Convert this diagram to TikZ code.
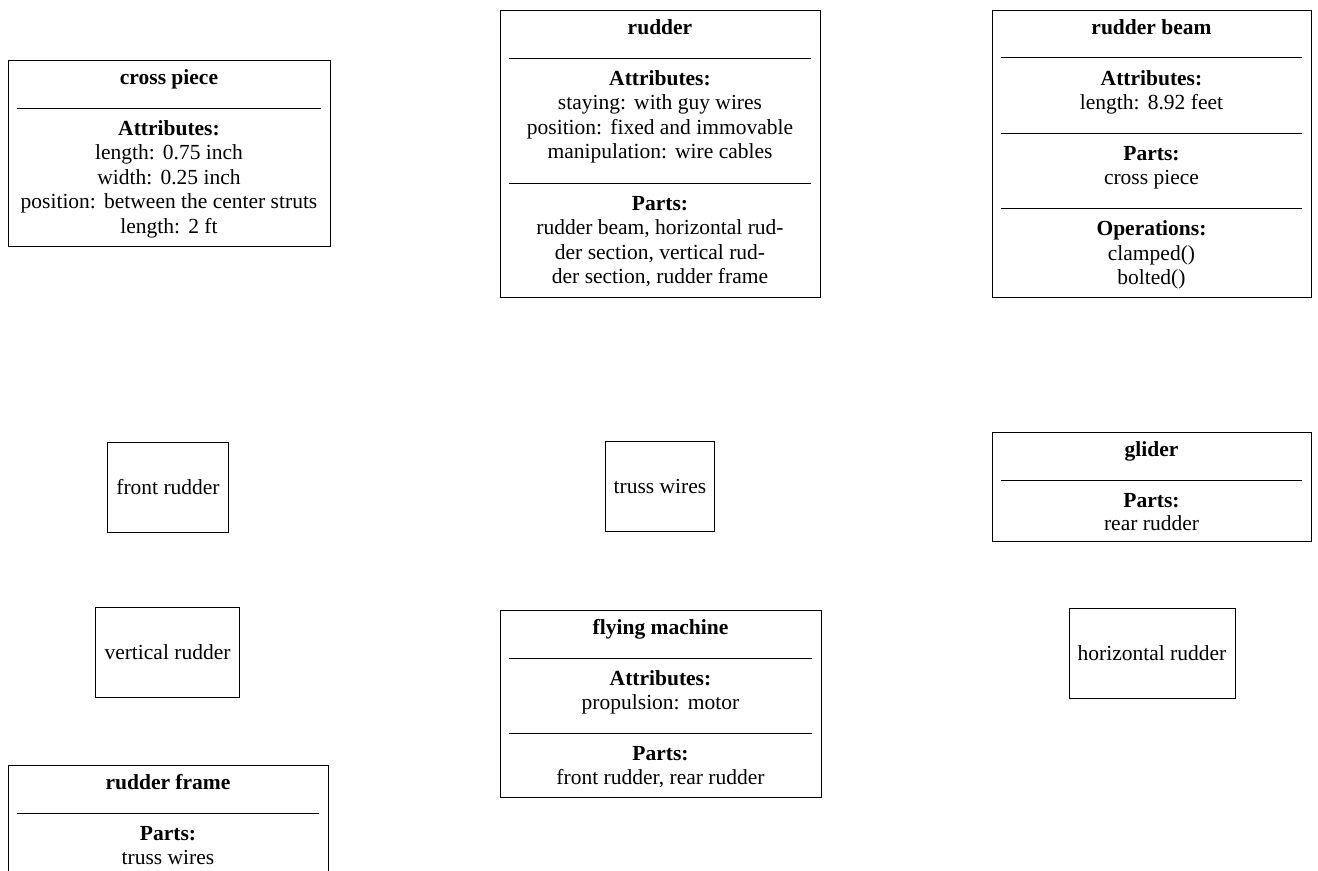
\documentclass[tikz,border=0pt]{standalone}
\usepackage{fontspec}
\setmainfont{Liberation Serif}
\usetikzlibrary{fit}
\newcommand{\colsp}{:\hspace{3.8pt}}
\begin{document}
\begin{tikzpicture}[x=0.465pt, y=-0.465pt,
  frame/.style={draw, line width=0.4pt, inner sep=0pt},
  ttl/.style={anchor=base, inner sep=0pt, yshift=-0.9pt, font=\fontsize{10}{12}\selectfont\bfseries},
  txt/.style={anchor=base, inner sep=0pt, yshift=-0.9pt, font=\fontsize{10}{12}\selectfont},
  divider/.style={line width=0.4pt},
  simple/.style={draw, line width=0.4pt, inner xsep=4pt, inner ysep=0pt, minimum height=41.9pt, font=\fontsize{10}{12}\selectfont}]
\useasboundingbox (0,0) rectangle (1318,871);
\clip (0,0) rectangle (1318,871);

% ---------- cross piece ----------
\coordinate (cp-nw) at (8,60);
\coordinate (cp-se) at (330,246.5);
\node[frame, fit=(cp-nw)(cp-se)] (cp) {};
\node[ttl] (cp-t) at (169,82.5) {cross piece};
\draw[divider] (17,108) -- (321,108);
\node[ttl] (cp-ah) at (169,133.5) {Attributes:};
\node[txt] (cp-a1) at (169,158) {length\colsp 0.75 inch};
\node[txt] (cp-a2) at (169,182.5) {width\colsp 0.25 inch};
\node[txt] (cp-a3) at (169,207) {position\colsp between the center struts};
\node[txt] (cp-a4) at (169,231.5) {length\colsp 2 ft};

% ---------- rudder ----------
\coordinate (ru-nw) at (500,10);
\coordinate (ru-se) at (820,297);
\node[frame, fit=(ru-nw)(ru-se)] (ru) {};
\node[ttl] (ru-t) at (660,32.5) {rudder};
\draw[divider] (509,58) -- (811,58);
\node[ttl] (ru-ah) at (660,83.5) {Attributes:};
\node[txt] (ru-a1) at (660,108) {staying\colsp with guy wires};
\node[txt] (ru-a2) at (660,132.5) {position\colsp fixed and immovable};
\node[txt] (ru-a3) at (660,157) {manipulation\colsp wire cables};
\draw[divider] (509,183) -- (811,183);
\node[ttl] (ru-ph) at (660,208.5) {Parts:};
\node[txt] (ru-p1) at (660,233) {rudder beam, horizontal rud-};
\node[txt] (ru-p2) at (660,257.5) {der section, vertical rud-};
\node[txt] (ru-p3) at (660,282) {der section, rudder frame};

% ---------- rudder beam ----------
\coordinate (rb-nw) at (992,10);
\coordinate (rb-se) at (1311,297);
\node[frame, fit=(rb-nw)(rb-se)] (rb) {};
\node[ttl] (rb-t) at (1151.5,32.5) {rudder beam};
\draw[divider] (1001,57.5) -- (1302,57.5);
\node[ttl] (rb-ah) at (1151.5,83.5) {Attributes:};
\node[txt] (rb-a1) at (1151.5,108) {length\colsp 8.92 feet};
\draw[divider] (1001,133) -- (1302,133);
\node[ttl] (rb-ph) at (1151.5,158.5) {Parts:};
\node[txt] (rb-p1) at (1151.5,183) {cross piece};
\draw[divider] (1001,208.5) -- (1302,208.5);
\node[ttl] (rb-oh) at (1151.5,234) {Operations:};
\node[txt] (rb-o1) at (1151.5,258.5) {clamped()};
\node[txt] (rb-o2) at (1151.5,283) {bolted()};

% ---------- simple boxes ----------
\node[simple] (front) at (168,487) {front rudder};
\node[simple] (truss) at (660,486.5) {truss wires};
\node[simple] (vert) at (167.5,652.5) {vertical rudder};
\node[simple] (horiz) at (1152,653) {horizontal rudder};

% ---------- glider ----------
\coordinate (gl-nw) at (992,432);
\coordinate (gl-se) at (1311,541);
\node[frame, fit=(gl-nw)(gl-se)] (gl) {};
\node[ttl] (gl-t) at (1151.5,454.5) {glider};
\draw[divider] (1001,480) -- (1302,480);
\node[ttl] (gl-ph) at (1151.5,506) {Parts:};
\node[txt] (gl-p1) at (1151.5,528.5) {rear rudder};

% ---------- flying machine ----------
\coordinate (fm-nw) at (500,610);
\coordinate (fm-se) at (821,797);
\node[frame, fit=(fm-nw)(fm-se)] (fm) {};
\node[ttl] (fm-t) at (660.5,632.5) {flying machine};
\draw[divider] (509,658) -- (812,658);
\node[ttl] (fm-ah) at (660.5,683.5) {Attributes:};
\node[txt] (fm-a1) at (660.5,708) {propulsion\colsp motor};
\draw[divider] (509,733) -- (812,733);
\node[ttl] (fm-ph) at (660.5,758.5) {Parts:};
\node[txt] (fm-p1) at (660.5,783) {front rudder, rear rudder};

% ---------- rudder frame ----------
\coordinate (rf-nw) at (8,765);
\coordinate (rf-se) at (328,878);
\node[frame, fit=(rf-nw)(rf-se)] (rf) {};
\node[ttl] (rf-t) at (168,787.5) {rudder frame};
\draw[divider] (17,813) -- (319,813);
\node[ttl] (rf-ph) at (168,838.5) {Parts:};
\node[txt] (rf-p1) at (168,863) {truss wires};
\end{tikzpicture}
\end{document}
